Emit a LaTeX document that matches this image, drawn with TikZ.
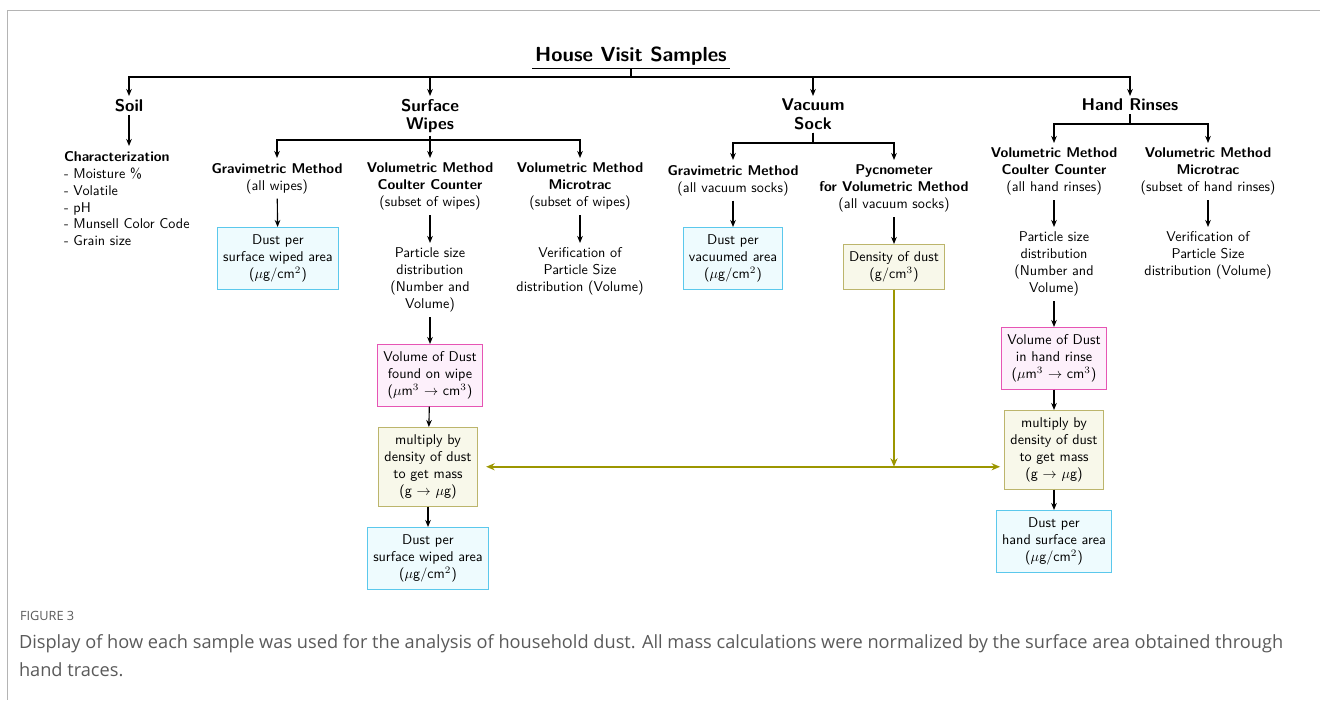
\documentclass[tikz,border=0pt]{standalone}
\usepackage{fontspec}
\newfontfamily\capfont{Open Sans}
\usepackage{tikz}
\usetikzlibrary{arrows.meta,positioning}
\definecolor{cybord}{HTML}{5BC8EC}
\definecolor{cyfill}{HTML}{EEFBFE}
\definecolor{pkbord}{HTML}{E655B4}
\definecolor{pkfill}{HTML}{FDF0FB}
\definecolor{olbord}{HTML}{BCB56C}
\definecolor{olfill}{HTML}{F8F8EA}
\definecolor{olline}{HTML}{9C9600}
\definecolor{framegray}{HTML}{B4B4B4}
\definecolor{capgray}{HTML}{5A5A5A}

\begin{document}
\begin{tikzpicture}[x=0.706pt,y=-0.706pt,font=\sffamily,
   every node/.style={align=center},
   >={Stealth[length=5pt,width=4pt]},
   flow/.style={->,line width=0.8pt},
   olflow/.style={line width=1.3pt,draw=olline,>={Stealth[length=6pt,width=5pt]}},
   cybox/.style={draw=cybord,fill=cyfill,line width=0.7pt,inner xsep=4pt,inner ysep=5pt},
   pkbox/.style={draw=pkbord,fill=pkfill,line width=0.7pt,inner xsep=4pt,inner ysep=5pt},
   olbox/.style={draw=olbord,fill=olfill,line width=0.7pt,inner xsep=4pt,inner ysep=5pt},
   head/.style={anchor=north,inner sep=2pt,font=\sffamily\bfseries\fontsize{12}{12.8}\selectfont}]
\useasboundingbox (0,0) rectangle (1320,700);
% frame of the figure
\draw[framegray,line width=1.4pt] (1320,10.5) -- (7.5,10.5) -- (7.5,700);
% Here is the title and the four kinds of samples
   \node[font=\sffamily\bfseries\Large,inner sep=2pt] (title) at (631,56) {House Visit Samples};
   \draw[line width=0.6pt] (title.south west) -- (title.south east);
   \coordinate (tbus) at (631,77);
   \node[head] (soil)  at (129,96)  {Soil};
   \node[head] (wipes) at (430,96)  {Surface\\Wipes};
   \node[head] (sock)  at (813,96)  {Vacuum\\Sock};
   \node[head] (hands) at (1130,96) {Hand Rinses};
   \draw[flow] (title.south) -- (tbus) -| (soil);
   \draw[flow] (title.south) -- (tbus) -| (wipes);
   \draw[flow] (title.south) -- (tbus) -| (sock);
   \draw[flow] (title.south) -- (tbus) -| (hands);
% Soil
   \node[anchor=north west,align=left] (charac) at (59,146)
      {\textbf{Characterization}\\- Moisture \%\\- Volatile\\- pH\\- Munsell Color Code\\- Grain size};
   \draw[flow] (soil) -- (soil |- charac.north);
% Surface wipes
   \coordinate (wbus) at (430,140);
   \node[anchor=north] (wgrav)  at (277,158) {\textbf{Gravimetric Method}\\(all wipes)};
   \node[anchor=north] (wcoul)  at (430,158) {\textbf{Volumetric Method}\\\textbf{Coulter Counter}\\(subset of wipes)};
   \node[anchor=north] (wmicro) at (580,158) {\textbf{Volumetric Method}\\\textbf{Microtrac}\\(subset of wipes)};
   \node[cybox,anchor=north] (wgdust) at (278,227) {Dust per\\surface wiped area\\($\mu$g/cm$^2$)};
   \node[anchor=north] (wpsd) at (430,243) {Particle size\\distribution\\(Number and\\Volume)};
   \node[anchor=north] (wver) at (580,243) {Verification of\\Particle Size\\distribution (Volume)};
   \node[pkbox,anchor=north] (wvol)  at (430,344) {Volume of Dust\\found on wipe\\($\mu$m$^3$ $\rightarrow$ cm$^3$)};
   \node[olbox,anchor=north] (wmult) at (428,427) {multiply by\\density of dust\\to get mass\\(g $\rightarrow$ $\mu$g)};
   \node[cybox,anchor=north] (wdust) at (428,527) {Dust per\\surface wiped area\\($\mu$g/cm$^2$)};
   \draw[flow] (wipes) -- (wbus) -| (wgrav);
   \draw[flow] (wipes) -- (wcoul);
   \draw[flow] (wipes) -- (wbus) -| (wmicro);
   \path[flow]
    (wgrav) edge (wgdust)
    (wcoul) edge (wpsd)
    (wmicro) edge (wver)
    (wpsd) edge (wvol)
    (wvol) edge (wmult)
    (wmult) edge (wdust);
% Vacuum sock
   \coordinate (vbus) at (813,143);
   \node[anchor=north] (vgrav) at (733,160) {\textbf{Gravimetric Method}\\(all vacuum socks)};
   \node[anchor=north] (vpyc)  at (894,160) {\textbf{Pycnometer}\\\textbf{for Volumetric Method}\\(all vacuum socks)};
   \node[cybox,anchor=north] (vdust) at (733,227) {Dust per\\vacuumed area\\($\mu$g/cm$^2$)};
   \node[olbox,anchor=north] (vdens) at (894,244) {Density of dust\\(g/cm$^3$)};
   \draw[flow] (sock) -- (vbus) -| (vgrav);
   \draw[flow] (sock) -- (vbus) -| (vpyc);
   \path[flow]
    (vgrav) edge (vdust)
    (vpyc) edge (vdens);
% Hand rinses
   \coordinate (hbus) at (1130,124);
   \node[anchor=north] (hcoul)  at (1054,143) {\textbf{Volumetric Method}\\\textbf{Coulter Counter}\\(all hand rinses)};
   \node[anchor=north] (hmicro) at (1208,143) {\textbf{Volumetric Method}\\\textbf{Microtrac}\\(subset of hand rinses)};
   \node[anchor=north] (hpsd) at (1054,227) {Particle size\\distribution\\(Number and\\Volume)};
   \node[anchor=north] (hver) at (1208,227) {Verification of\\Particle Size\\distribution (Volume)};
   \node[pkbox,anchor=north] (hvol)  at (1054,327) {Volume of Dust\\in hand rinse\\($\mu$m$^3$ $\rightarrow$ cm$^3$)};
   \node[olbox,anchor=north] (hmult) at (1054,410) {multiply by\\density of dust\\to get mass\\(g $\rightarrow$ $\mu$g)};
   \node[cybox,anchor=north] (hdust) at (1054,510) {Dust per\\hand surface area\\($\mu$g/cm$^2$)};
   \draw[flow] (hands) -- (hbus) -| (hcoul);
   \draw[flow] (hands) -- (hbus) -| (hmicro);
   \path[flow]
    (hcoul) edge (hpsd)
    (hmicro) edge (hver)
    (hpsd) edge (hvol)
    (hvol) edge (hmult)
    (hmult) edge (hdust);
% density of dust goes to both multiply boxes
   \draw[olflow,<->,shorten <=6pt,shorten >=3pt] (wmult.east) -- (wmult.east -| hmult.west);
   \draw[olflow,->] (vdens) -- (vdens |- wmult.east);
% caption
   \node[anchor=west,text=capgray,font=\capfont\fontsize{9}{11}\selectfont] (figno) at (15,616) {FIGURE 3};
   \node[anchor=north west,align=left,text=capgray,font=\capfont\fontsize{12.85}{19.8}\selectfont] (caption) at (14,630)
      {Display of how each sample was used for the analysis of household dust. All mass calculations were normalized by the surface area obtained through\\hand traces.};
\end{tikzpicture}
\end{document}
